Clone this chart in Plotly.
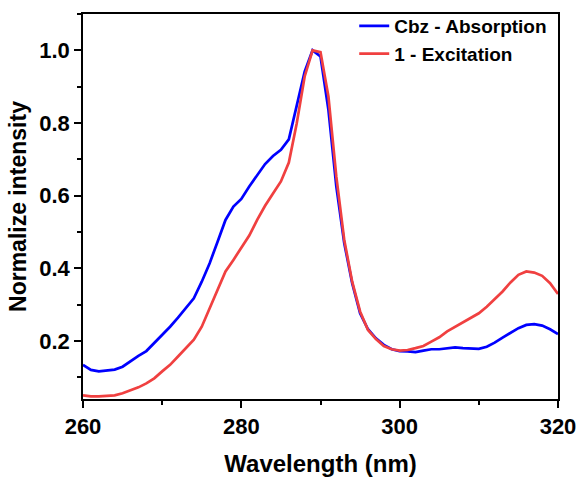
import plotly.graph_objects as go

wavelength = list(range(260, 321))

cbz_absorption = [
    0.134, 0.120, 0.116, 0.118, 0.121, 0.129, 0.145, 0.159, 0.172, 0.194,
    0.216, 0.239, 0.264, 0.290, 0.317, 0.363, 0.414, 0.473, 0.533, 0.570,
    0.591, 0.625, 0.657, 0.687, 0.709, 0.726, 0.755, 0.845, 0.941, 1.000,
    0.983, 0.836, 0.625, 0.469, 0.359, 0.276, 0.232, 0.207, 0.189, 0.177,
    0.172, 0.171, 0.169, 0.173, 0.177, 0.177, 0.180, 0.182, 0.180, 0.178,
    0.178, 0.184, 0.195, 0.209, 0.223, 0.235, 0.244, 0.246, 0.242, 0.232,
    0.219,
]

excitation_1 = [
    0.050, 0.047, 0.047, 0.048, 0.050, 0.056, 0.063, 0.072, 0.083, 0.097,
    0.116, 0.134, 0.157, 0.180, 0.203, 0.239, 0.290, 0.340, 0.391, 0.423,
    0.455, 0.490, 0.533, 0.572, 0.606, 0.639, 0.691, 0.799, 0.928, 1.000,
    0.995, 0.873, 0.652, 0.478, 0.363, 0.281, 0.230, 0.205, 0.186, 0.177,
    0.173, 0.175, 0.180, 0.186, 0.198, 0.210, 0.226, 0.239, 0.250, 0.264,
    0.276, 0.294, 0.316, 0.336, 0.361, 0.382, 0.391, 0.388, 0.379, 0.359,
    0.329,
]

x_ticks = [260, 280, 300, 320]
y_ticks = [0.2, 0.4, 0.6, 0.8, 1.0]
y_tick_labels = ["0.2", "0.4", "0.6", "0.8", "1.0"]

FONT = "Liberation Sans, Arial, sans-serif"

fig = go.Figure()
fig.add_trace(go.Scatter(x=wavelength, y=cbz_absorption, mode="lines",
                         name="<b>Cbz - Absorption</b>",
                         line=dict(color="#0000ff", width=2.7)))
fig.add_trace(go.Scatter(x=wavelength, y=excitation_1, mode="lines",
                         name="<b>1 - Excitation</b>",
                         line=dict(color="#f04040", width=2.7)))

axis_common = dict(showgrid=False, zeroline=False, showline=True,
                   linecolor="black", linewidth=1.5, mirror=True,
                   ticks="outside", ticklen=7, tickwidth=1.5, tickcolor="black",
                   tickfont=dict(family=FONT, size=22, color="black"))

fig.update_xaxes(range=[260, 320], tickvals=x_ticks,
                 ticktext=["<b>%d</b>" % v for v in x_ticks],
                 minor=dict(ticks="outside", ticklen=4, tickwidth=1.5,
                            tickcolor="black", dtick=10, tick0=260),
                 title=dict(text="<b>Wavelength (nm)</b>",
                            font=dict(family=FONT, size=24, color="black"),
                            standoff=17),
                 **axis_common)
fig.update_yaxes(range=[0.04, 1.1], tickvals=y_ticks,
                 ticktext=["<b>%s</b>" % t for t in y_tick_labels],
                 minor=dict(ticks="outside", ticklen=4, tickwidth=1.5,
                            tickcolor="black", dtick=0.1, tick0=0.0),
                 title=dict(text="<b>Normalize intensity</b>",
                            font=dict(family=FONT, size=23, color="black"),
                            standoff=6),
                 **axis_common)

fig.update_layout(
    width=583, height=480,
    margin=dict(l=83, r=25, t=14, b=81, autoexpand=False),
    paper_bgcolor="white", plot_bgcolor="white",
    showlegend=True,
    legend=dict(x=0.571, y=1.018, xanchor="left", yanchor="top",
                bgcolor="rgba(0,0,0,0)", borderwidth=0,
                font=dict(family=FONT, size=19, color="black"),
                tracegroupgap=0, itemwidth=30),
)

fig.write_html("out.html")
